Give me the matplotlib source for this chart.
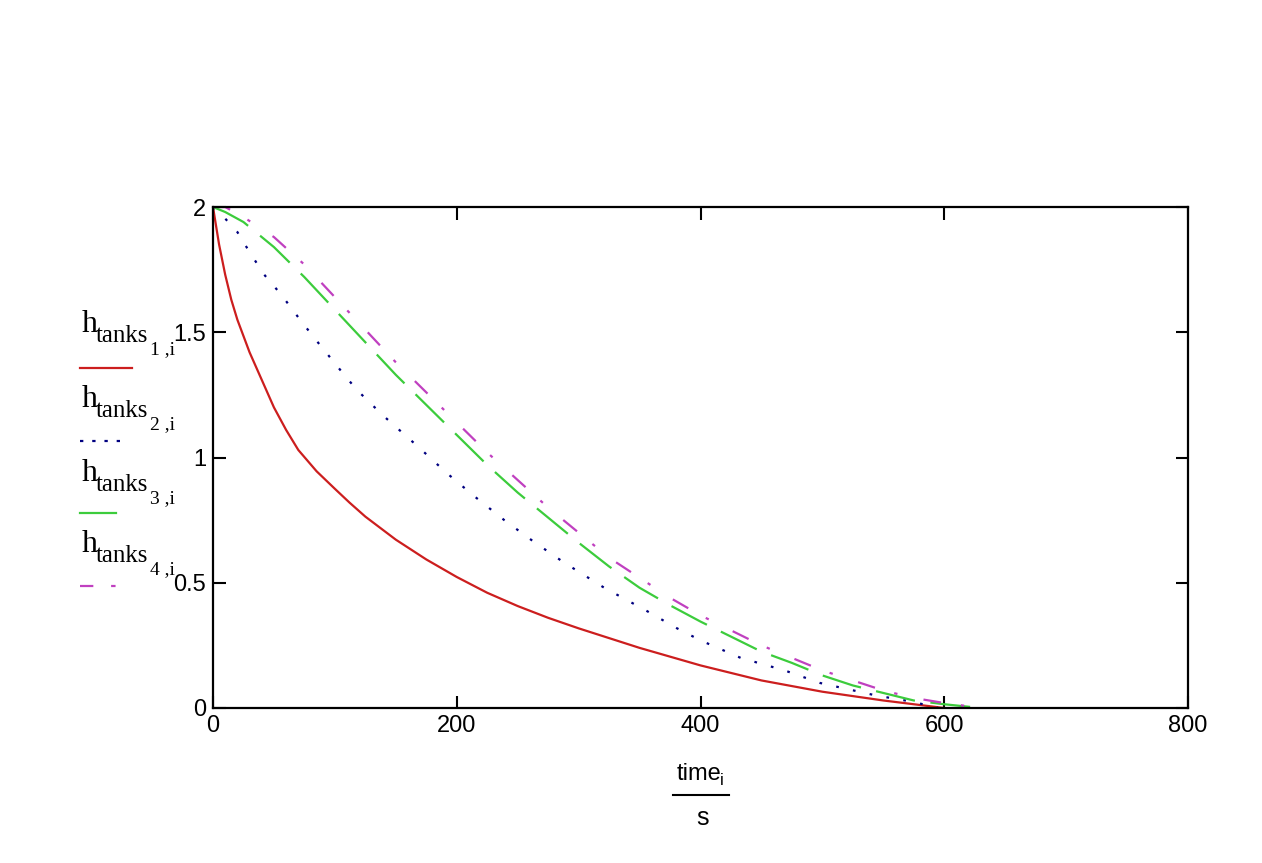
import matplotlib
matplotlib.use("Agg")
import matplotlib.pyplot as plt
from matplotlib.lines import Line2D

W, H = 1262, 863

# (time in s, level in m)
t_tank1 = [0, 5, 10, 15, 20, 30, 40, 50, 60, 70, 85, 100, 112, 125, 150, 175, 200, 225, 250, 275, 300, 350, 400, 450, 500, 550, 575, 600]
h_tank1 = [2.0, 1.85, 1.73, 1.63, 1.55, 1.42, 1.31, 1.20, 1.11, 1.03, 0.945, 0.875, 0.82, 0.764, 0.672, 0.593, 0.523, 0.46, 0.407, 0.36, 0.318, 0.24, 0.17, 0.11, 0.065, 0.03, 0.015, 0.0]

t_tank2 = [0, 7, 20, 30, 42, 56, 73, 86, 106, 118, 139, 169, 192, 215, 239, 262, 287, 303, 321, 355, 380, 400, 433, 469, 498, 544, 574, 595]
h_tank2 = [2.0, 1.97, 1.90, 1.82, 1.73, 1.65, 1.54, 1.46, 1.34, 1.27, 1.17, 1.04, 0.937, 0.843, 0.75, 0.668, 0.584, 0.535, 0.48, 0.39, 0.32, 0.27, 0.20, 0.15, 0.10, 0.05, 0.025, 0.0]

t_tank34 = [0, 10, 25, 50, 75, 100, 125, 150, 175, 200, 225, 250, 275, 300, 325, 350, 375, 400, 425, 450, 475, 500, 525, 550, 575, 600, 630]
h_tank3 = [2.0, 1.98, 1.94, 1.84, 1.72, 1.59, 1.46, 1.33, 1.21, 1.09, 0.97, 0.86, 0.76, 0.66, 0.565, 0.48, 0.41, 0.345, 0.285, 0.225, 0.18, 0.13, 0.09, 0.06, 0.03, 0.015, 0.0]
h_tank4 = [2.0, 2.0, 1.96, 1.88, 1.77, 1.64, 1.51, 1.38, 1.26, 1.14, 1.02, 0.91, 0.80, 0.70, 0.60, 0.52, 0.44, 0.37, 0.31, 0.25, 0.20, 0.15, 0.11, 0.07, 0.04, 0.02, 0.0]

x_ticks = [0, 200, 400, 600, 800]
y_ticks = [0, 0.5, 1, 1.5, 2]
y_ticklabels = ["0", "0.5", "1", "1.5", "2"]

red = "#cc1e1e"
navy = "#000080"
green = "#3ccc3c"
magenta = "#c040c0"

sans = "Liberation Sans"
serif = "Liberation Serif"

fig = plt.figure(figsize=(W / 100, H / 100), dpi=100)
ax = fig.add_axes([213 / W, 1 - 708 / H, (1188 - 213) / W, (708 - 207) / H])

ax.plot(t_tank1, h_tank1, color=red, lw=1.6)
ax.plot(t_tank2, h_tank2, color=navy, lw=1.6, linestyle=(0, (1.2, 6.5)))
ax.plot(t_tank34, h_tank3, color=green, lw=1.6, linestyle=(0, (18, 7)))
ax.plot(t_tank34, h_tank4, color=magenta, lw=1.6, linestyle=(0, (8, 9, 1.5, 12)))

ax.set_xlim(0, 800)
ax.set_ylim(0, 2)
ax.set_xticks(x_ticks)
ax.set_yticks(y_ticks)
ax.set_yticklabels(y_ticklabels)
ax.tick_params(direction="in", length=9, width=1.5, top=True, right=True,
               labelsize=17, pad=5)
for lab in ax.get_xticklabels() + ax.get_yticklabels():
    lab.set_family(sans)
for sp in ax.spines.values():
    sp.set_linewidth(1.6)

# x label: time_i / s
fig.text(677 / W, 1 - 780 / H, "time", fontsize=17, family=sans, ha="left", va="baseline")
fig.text(720 / W, 1 - 785 / H, "i", fontsize=12, family=sans, ha="left", va="baseline")
fig.add_artist(Line2D([673 / W, 729 / W], [1 - 795 / H, 1 - 795 / H], color="black", lw=1.5))
fig.text(703 / W, 1 - 825 / H, "s", fontsize=18, family=sans, ha="center", va="baseline")

# legend in mathcad style
def legend_entry(k, y_base, y_line, x_end, color, ls):
    x0 = 82
    fig.text(x0 / W, 1 - y_base / H, "h", fontsize=23, family=serif, va="baseline")
    fig.text((x0 + 14) / W, 1 - (y_base + 10) / H, "tanks", fontsize=18, family=serif, va="baseline")
    fig.text((x0 + 68) / W, 1 - (y_base + 22) / H, f"{k} ,i", fontsize=14, family=serif, va="baseline")
    fig.add_artist(Line2D([80 / W, x_end / W], [1 - y_line / H, 1 - y_line / H],
                          color=color, lw=1.6, linestyle=ls))

legend_entry(1, 332, 368, 132, red, "-")
legend_entry(2, 407, 441, 122, navy, (0, (1.5, 4)))
legend_entry(3, 481, 513, 116, green, "-")
legend_entry(4, 552, 586, 117, magenta, (0, (6, 8, 2, 4)))

fig.savefig("out.png", dpi=100)
